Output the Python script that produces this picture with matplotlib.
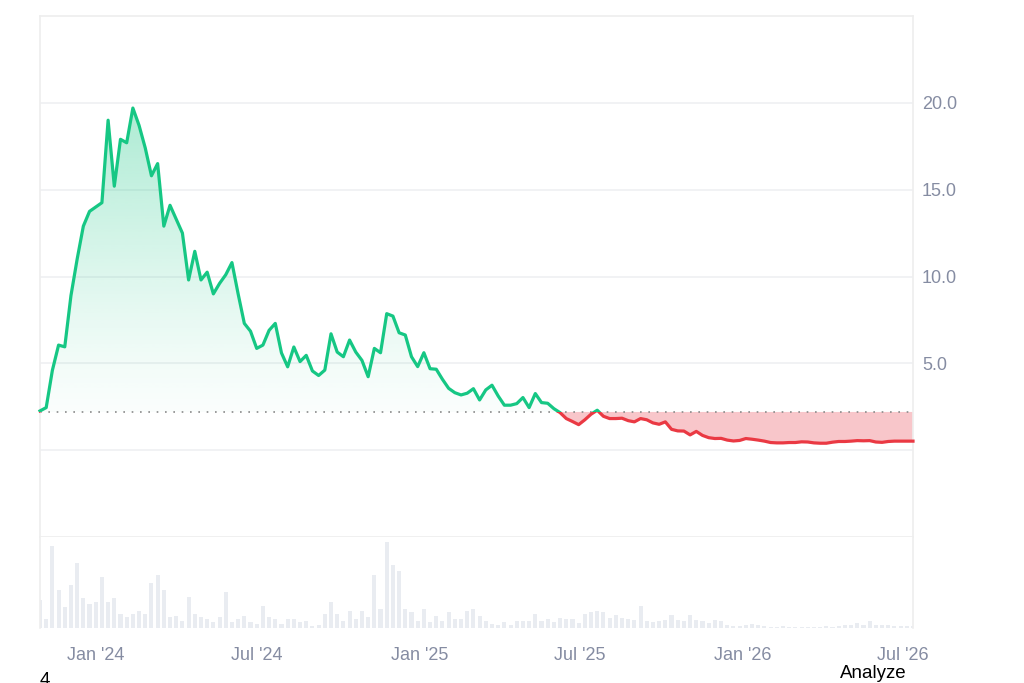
import numpy as np
import pandas as pd
import matplotlib
matplotlib.use("Agg")
import matplotlib.pyplot as plt
import matplotlib.dates as mdates
from matplotlib.path import Path
from matplotlib.patches import Rectangle

plt.rcParams['font.family'] = ['Liberation Sans', 'DejaVu Sans']

start_date = "2023-10-30"
baseline = 2.2

price = [2.26, 2.45, 4.6, 6.05, 5.95, 8.9, 11.0, 12.9, 13.75, 14.0,
         14.25, 19.0, 15.2, 17.9, 17.7, 19.7, 18.7, 17.4, 15.8, 16.5,
         12.9, 14.1, 13.3, 12.5, 9.8, 11.45, 9.8, 10.25, 9.0, 9.6,
         10.1, 10.8, 9.0, 7.3, 6.85, 5.86, 6.05, 6.9, 7.3, 5.6,
         4.8, 5.94, 5.1, 5.46, 4.56, 4.3, 4.61, 6.7, 5.65, 5.38,
         6.34, 5.65, 5.17, 4.23, 5.86, 5.61, 7.86, 7.72, 6.76, 6.63,
         5.38, 4.81, 5.61, 4.69, 4.66, 4.08, 3.56, 3.31, 3.18, 3.28,
         3.54, 2.89, 3.47, 3.74, 3.12, 2.59, 2.59, 2.68, 3.03, 2.45,
         3.26, 2.74, 2.7, 2.39, 2.16, 1.82, 1.65, 1.47, 1.75, 2.07,
         2.30, 1.95, 1.82, 1.82, 1.84, 1.70, 1.63, 1.82, 1.75, 1.57,
         1.49, 1.63, 1.2, 1.11, 1.1, 0.88, 1.08, 0.85, 0.72, 0.67,
         0.68, 0.58, 0.53, 0.56, 0.67, 0.63, 0.58, 0.52, 0.44, 0.42,
         0.42, 0.44, 0.44, 0.48, 0.47, 0.42, 0.40, 0.40, 0.46, 0.50,
         0.50, 0.52, 0.55, 0.54, 0.55, 0.47, 0.45, 0.50, 0.52, 0.52,
         0.52, 0.52]

volume = [84, 27, 247, 114, 62, 129, 195, 89, 72, 77,
          154, 77, 89, 42, 32, 42, 52, 42, 134, 159,
          114, 32, 35, 22, 92, 42, 32, 27, 17, 32,
          109, 17, 27, 35, 17, 12, 67, 32, 27, 12,
          27, 27, 17, 20, 7, 10, 42, 77, 42, 22,
          52, 27, 52, 32, 159, 57, 257, 190, 170, 57,
          47, 22, 57, 17, 35, 22, 47, 27, 27, 52,
          57, 37, 20, 12, 10, 18, 10, 22, 22, 20,
          42, 20, 28, 18, 30, 28, 28, 15, 42, 48,
          52, 48, 30, 38, 30, 28, 25, 65, 22, 18,
          20, 25, 40, 25, 22, 38, 25, 20, 15, 25,
          20, 8, 5, 5, 8, 12, 8, 5, 4, 3,
          5, 3, 3, 4, 4, 4, 3, 5, 3, 5,
          8, 10, 15, 8, 20, 10, 8, 8, 5, 5,
          5, 5]

tick_dates = ["2024-01-01", "2024-07-01", "2025-01-01", "2025-07-01", "2026-01-01", "2026-07-01"]
tick_labels = ["Jan '24", "Jul '24", "Jan '25", "Jul '25", "Jan '26", "Jul '26"]
ytick_vals = [5, 10, 15, 20]

GREEN = '#16c784'
RED = '#ea3943'
GRID = '#eff0f2'
TXT = '#858ca2'

dates = pd.date_range(start_date, periods=len(price), freq='7D')
x = mdates.date2num(dates.to_pydatetime())
p = np.array(price, dtype=float)

fig = plt.figure(figsize=(10.24, 6.83), dpi=100)
ax = fig.add_axes([40/1024, 1-537/683, 873/1024, (537-16)/683])
axv = fig.add_axes([40/1024, 1-628/683, 873/1024, 91/683], sharex=ax)

ax.set_xlim(x[0], x[-1])
ax.set_ylim(-5, 25)

for g in [0, 5, 10, 15, 20]:
    ax.axhline(g, color=GRID, lw=1.2, zorder=0)

# dense sampling for fills/clip
xf = np.linspace(x[0], x[-1], 4000)
pf = np.interp(xf, x, p)

# green gradient fill clipped to area above baseline
upper = np.maximum(pf, baseline)
verts = [(xf[0], baseline)] + list(zip(xf, upper)) + [(xf[-1], baseline), (xf[0], baseline)]
clip = Path(verts, closed=True)
top = p.max()
grad = np.linspace(0, 1, 256)
rgba = np.zeros((256, 1, 4))
rgba[..., 0] = 22/255
rgba[..., 1] = 199/255
rgba[..., 2] = 132/255
rgba[..., 3] = (0.02 + 0.33 * grad ** 1.2).reshape(-1, 1)
im = ax.imshow(rgba, extent=(x[0], x[-1], baseline, top), origin='lower',
               aspect='auto', interpolation='bilinear', zorder=1)
im.set_clip_path(clip, transform=ax.transData)

# red fill below baseline
ax.fill_between(xf, pf, baseline, where=pf < baseline, interpolate=True,
                color='#f8c6ca', lw=0, zorder=1)

# baseline dotted
ax.axhline(baseline, color='#8a8a8a', lw=1.2, ls=(0, (1, 4)), zorder=2)

# line split by colour
lg, = ax.plot(x, p, color=GREEN, lw=2.3, zorder=3, solid_joinstyle='round')
lr, = ax.plot(x, p, color=RED, lw=2.3, zorder=3, solid_joinstyle='round')
rg = Rectangle((x[0] - 10, baseline), x[-1] - x[0] + 20, 40, transform=ax.transData)
rr = Rectangle((x[0] - 10, baseline - 40), x[-1] - x[0] + 20, 40, transform=ax.transData)
lg.set_clip_path(rg)
lr.set_clip_path(rr)

ax.yaxis.tick_right()
ax.set_yticks(ytick_vals)
ax.set_yticklabels([f"{v:.1f}" for v in ytick_vals])
ax.tick_params(axis='y', length=0, pad=6.5, labelsize=13, labelcolor=TXT)
ax.tick_params(axis='x', length=0, labelbottom=False)
for s in ['left', 'right', 'top', 'bottom']:
    ax.spines[s].set_color('#eeeeee')
    ax.spines[s].set_linewidth(1.2)

# volume
axv.bar(x, volume, width=4.6, color='#e9ecf1', lw=0)
axv.set_ylim(0, 273)
axv.set_yticks([])
axv.set_xticks(mdates.date2num(pd.to_datetime(tick_dates).to_pydatetime()))
axv.set_xticklabels(tick_labels)
axv.tick_params(axis='x', length=0, pad=14, labelsize=13, labelcolor=TXT)
axv.set_xlim(x[0], x[-1])
for s in ['left', 'right']:
    axv.spines[s].set_color('#eeeeee')
    axv.spines[s].set_linewidth(1.2)
axv.spines['top'].set_visible(False)
axv.spines['bottom'].set_visible(False)

fig.text(40/1024, 1-672/683, "4", fontsize=13.5, color='black', ha='left', va='top')
fig.text(907/1024, 1-673/683, "Analyze", fontsize=13.5, color='black', ha='right', va='center')

fig.savefig("out.png", dpi=100, facecolor='white')
